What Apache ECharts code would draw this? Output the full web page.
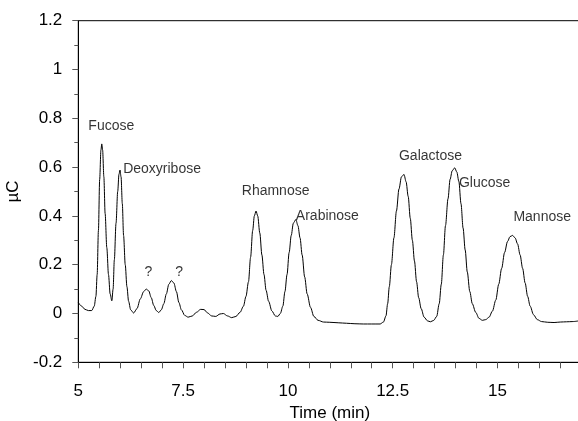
<!DOCTYPE html>
<html>
<head>
<meta charset="utf-8">
<script src="https://cdn.jsdelivr.net/npm/echarts@6/dist/echarts.min.js"></script>
<style>
html,body{margin:0;padding:0;background:#fff;}
#chart{width:578px;height:421px;}
</style>
</head>
<body>
<div id="chart"></div>
<script>
// Time (min) and detector response (µC)
var timeMin = [5.00,5.08,5.16,5.24,5.32,5.38,5.42,5.45,5.48,5.51,5.54,5.56,5.58,5.61,5.64,5.68,5.72,5.76,5.80,5.83,5.86,5.90,5.94,5.97,5.995,6.02,6.05,6.08,6.12,6.16,6.20,6.25,6.32,6.40,6.48,6.56,6.62,6.68,6.74,6.80,6.86,6.92,6.98,7.04,7.10,7.16,7.22,7.28,7.34,7.40,7.46,7.54,7.62,7.72,7.82,7.92,8.00,8.08,8.18,8.28,8.38,8.46,8.56,8.66,8.76,8.86,8.94,9.00,9.06,9.11,9.16,9.20,9.24,9.28,9.33,9.38,9.43,9.48,9.54,9.62,9.70,9.76,9.82,9.88,9.93,9.98,10.03,10.08,10.13,10.19,10.24,10.29,10.34,10.40,10.46,10.54,10.62,10.72,10.85,11.0,11.2,11.4,11.6,11.8,12.0,12.2,12.28,12.34,12.38,12.42,12.47,12.53,12.59,12.65,12.71,12.77,12.82,12.87,12.92,12.97,13.02,13.07,13.12,13.18,13.25,13.33,13.40,13.48,13.55,13.61,13.66,13.71,13.76,13.82,13.87,13.92,13.98,14.03,14.08,14.13,14.18,14.23,14.28,14.34,14.40,14.48,14.56,14.64,14.72,14.80,14.88,14.96,15.03,15.10,15.17,15.24,15.30,15.36,15.42,15.48,15.54,15.60,15.66,15.72,15.78,15.86,15.95,16.05,16.2,16.35,16.5,16.65,16.8,16.95];
var signal = [0.045,0.03,0.017,0.012,0.012,0.03,0.07,0.16,0.34,0.55,0.67,0.695,0.67,0.56,0.41,0.27,0.16,0.08,0.052,0.10,0.22,0.37,0.50,0.57,0.588,0.56,0.45,0.32,0.20,0.11,0.05,0.015,0.002,0.02,0.06,0.09,0.10,0.093,0.065,0.033,0.012,0.004,0.015,0.04,0.08,0.12,0.135,0.125,0.09,0.045,0.015,-0.008,-0.015,-0.01,0.005,0.017,0.016,0.003,-0.01,-0.012,-0.002,0.0,-0.01,-0.017,-0.012,0.005,0.03,0.07,0.13,0.23,0.34,0.40,0.42,0.40,0.33,0.24,0.16,0.095,0.05,0.01,-0.01,-0.012,0.0,0.03,0.09,0.16,0.25,0.32,0.37,0.385,0.36,0.31,0.24,0.15,0.08,0.025,-0.012,-0.028,-0.035,-0.036,-0.038,-0.04,-0.042,-0.043,-0.043,-0.043,-0.035,-0.01,0.04,0.11,0.2,0.31,0.42,0.51,0.56,0.57,0.54,0.48,0.39,0.3,0.215,0.13,0.065,0.02,-0.015,-0.03,-0.034,-0.028,-0.012,0.04,0.12,0.24,0.36,0.47,0.55,0.585,0.597,0.58,0.54,0.45,0.35,0.26,0.17,0.09,0.04,0.005,-0.02,-0.028,-0.025,-0.015,0.01,0.055,0.12,0.185,0.25,0.295,0.315,0.32,0.31,0.285,0.24,0.185,0.125,0.07,0.03,-0.005,-0.025,-0.033,-0.036,-0.037,-0.035,-0.034,-0.033,-0.03];

// Peak annotations: text and the data point at the left edge of each label
var annoNames = ['Fucose','Deoxyribose','?','?','Rhamnose','Arabinose','Galactose','Glucose','Mannose'];
var annoX = [5.24,6.07,6.58,7.31,8.90,10.19,12.65,14.08,15.38];
var annoY = [0.766,0.59,0.171,0.171,0.503,0.397,0.643,0.534,0.394];

// Axis settings
var xMin = 5, xMax = 17, xLabelStep = 2.5, xTickStep = 0.5;
var yMin = -0.2, yMax = 1.2, yStep = 0.2;

var lineData = timeMin.map(function(t, i){ return [t, signal[i]]; });
var annoData = annoNames.map(function(n, i){ return {name: n, value: [annoX[i], annoY[i]]}; });

var FONT = '"Liberation Sans", Arial, sans-serif';
var chart = echarts.init(document.getElementById('chart'), null, {renderer: 'canvas'});
chart.setOption({
  backgroundColor: '#ffffff',
  animation: false,
  grid: {left: 78.3, top: 20.7, width: 503, height: 341.6, containLabel: false, outerBoundsMode: 'none',
         show: true, borderColor: '#000', borderWidth: 1, backgroundColor: 'transparent'},
  xAxis: {
    type: 'value', min: xMin, max: xMax, interval: xTickStep,
    name: 'Time (min)', nameLocation: 'middle', nameGap: 41,
    nameTextStyle: {fontFamily: FONT, fontSize: 17, color: '#000'},
    axisLine: {show: true, onZero: false, lineStyle: {color: '#000', width: 1}},
    axisTick: {show: true, length: 6, lineStyle: {color: '#555'}},
    splitLine: {show: false},
    axisLabel: {
      margin: 21, fontFamily: FONT, fontSize: 17, color: '#000', showMaxLabel: true,
      formatter: function(v){
        var r = (v - xMin) / xLabelStep;
        return Math.abs(r - Math.round(r)) < 1e-6 && v < xMax - 0.01 ? String(v) : '';
      }
    }
  },
  yAxis: {
    type: 'value', min: yMin, max: yMax, interval: yStep,
    name: 'µC', nameLocation: 'middle', nameGap: 56, nameRotate: 90,
    nameTextStyle: {fontFamily: FONT, fontSize: 17, color: '#000'},
    axisLine: {show: true, onZero: false, lineStyle: {color: '#000', width: 1}},
    axisTick: {show: true, length: 6, lineStyle: {color: '#555'}},
    minorTick: {show: true, splitNumber: 2, length: 4, lineStyle: {color: '#555'}},
    splitLine: {show: false},
    axisLabel: {
      margin: 16, fontFamily: FONT, fontSize: 17, color: '#000',
      formatter: function(v){ return String(Math.round(v * 10) / 10); }
    }
  },
  series: [
    {
      type: 'line', data: lineData, showSymbol: false, symbol: 'none',
      smooth: 0.3, smoothMonotone: 'x',
      lineStyle: {color: '#000', width: 1}, silent: true, z: 3
    },
    {
      type: 'scatter', data: annoData, symbolSize: 0, silent: true, z: 5,
      label: {
        show: true, position: 'right', distance: 0,
        formatter: function(p){ return p.name; },
        fontFamily: FONT, fontSize: 14, color: '#000'
      }
    }
  ]
});
</script>
</body>
</html>
